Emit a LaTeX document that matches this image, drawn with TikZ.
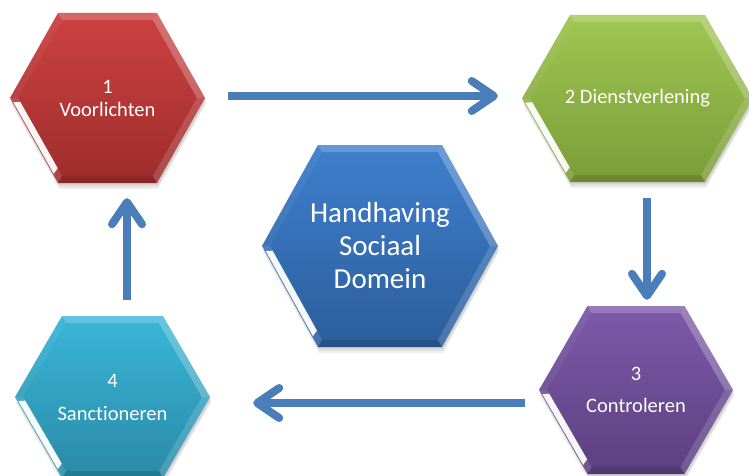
\documentclass[tikz,border=0pt]{standalone}
\usepackage{fontspec}
\setmainfont{Carlito}[Ligatures=NoCommon]
\usetikzlibrary{arrows.meta,calc}
\definecolor{arrowblue}{HTML}{4A7EBB}
\definecolor{redtop}{HTML}{CD4242}
\definecolor{redbot}{HTML}{9E2C2C}
\definecolor{greentop}{HTML}{A0C653}
\definecolor{greenbot}{HTML}{7B9C38}
\definecolor{bluetop}{HTML}{3F7FCD}
\definecolor{bluebot}{HTML}{2C5E9C}
\definecolor{purpletop}{HTML}{7E5AAA}
\definecolor{purplebot}{HTML}{5C4080}
\definecolor{cyantop}{HTML}{3AB6D8}
\definecolor{cyanbot}{HTML}{2A8AA6}
\tikzset{
  hexbox/.style={inner sep=0pt, text=white, align=center},
  smalltext/.style={font=\fontsize{20.5}{23}\selectfont},
  bigtext/.style={font=\fontsize{29}{33}\selectfont},
  flow/.style={draw=arrowblue, line width=8pt,
    -{Straight Barb[length=22pt,width=30pt,round]}},
}
% #1 cx, #2 cy, #3 half width, #4 half height, #5 half top edge, #6 top colour, #7 bottom colour
\newcommand{\hexdraw}[7]{%
\begin{scope}[shift={(#1,#2)}]
  \pgfmathsetmacro\hW{#3}\pgfmathsetmacro\hH{#4}\pgfmathsetmacro\hT{#5}
  \pgfmathsetmacro\hD{7}
  \pgfmathsetmacro\hDx{\hD*veclen(\hH,\hW-\hT)/\hH}
  \pgfmathsetmacro\iW{\hW-\hDx}
  \pgfmathsetmacro\iH{\hH-\hD}
  \pgfmathsetmacro\iT{\hT-\hDx+(\hW-\hT)*\hD/\hH}
  \foreach \s in {2,4,6}{%
    \fill[black,opacity=0.06] (-\hT+1,-\hH+\s) -- (\hT+1,-\hH+\s) -- (\hW+1,\s)
      -- (\hT+1,\hH+\s) -- (-\hT+1,\hH+\s) -- (-\hW+1,\s) -- cycle;}
  \coordinate (P1) at (-\hT,-\hH); \coordinate (P2) at (\hT,-\hH);
  \coordinate (P3) at (\hW,0);     \coordinate (P4) at (\hT,\hH);
  \coordinate (P5) at (-\hT,\hH);  \coordinate (P6) at (-\hW,0);
  \coordinate (Q1) at (-\iT,-\iH); \coordinate (Q2) at (\iT,-\iH);
  \coordinate (Q3) at (\iW,0);     \coordinate (Q4) at (\iT,\iH);
  \coordinate (Q5) at (-\iT,\iH);  \coordinate (Q6) at (-\iW,0);
  \shade[top color=#6, bottom color=#7]
    (P1) -- (P2) -- (P3) -- (P4) -- (P5) -- (P6) -- cycle;
  \fill[white,opacity=0.20] (P1) -- (P2) -- (Q2) -- (Q1) -- cycle;
  \fill[white,opacity=0.24] (P2) -- (P3) -- (Q3) -- (Q2) -- cycle;
  \fill[white,opacity=0.15] (P3) -- (P4) -- (Q4) -- (Q3) -- cycle;
  \fill[black,opacity=0.12] (P4) -- (P5) -- (Q5) -- (Q4) -- cycle;
  \fill[white,opacity=0.12] (P5) -- (P6) -- (Q6) -- (Q5) -- cycle;
  \fill[white,opacity=0.05] (P6) -- (P1) -- (Q1) -- (Q6) -- cycle;
  \coordinate (R6) at ($(P6)!0.12!(Q6)$);
  \coordinate (R5) at ($(P5)!0.12!(Q5)$);
  \fill[white,opacity=0.95] ($(R6)!0.05!(R5)$) -- ($(R6)!0.9!(R5)$)
    -- ($(Q6)!0.9!(Q5)$) -- ($(Q6)!0.05!(Q5)$) -- cycle;
\end{scope}}
\begin{document}
\begin{tikzpicture}[x=1pt,y=-1pt]
  \useasboundingbox (0,0) rectangle (749,476);
  \fill[white] (0,0) rectangle (749,476);
  % hexagon bodies
  \hexdraw{107.5}{98}{97.5}{85}{49.5}{redtop}{redbot}
  \hexdraw{637.5}{98.5}{115.5}{83.5}{67.5}{greentop}{greenbot}
  \hexdraw{380}{246}{118}{101}{62}{bluetop}{bluebot}
  \hexdraw{636}{390}{97}{84}{48.5}{purpletop}{purplebot}
  \hexdraw{112.5}{397}{97.5}{81}{50.5}{cyantop}{cyanbot}
  % named nodes with texts
  \node[hexbox, smalltext, minimum width=195pt, minimum height=170pt] (red) at (107.5,98) {1\\Voorlichten};
  \node[hexbox, smalltext, minimum width=231pt, minimum height=167pt] (green) at (637.5,98.5) {2 Dienstverlening};
  \node[hexbox, bigtext, minimum width=236pt, minimum height=202pt] (blue) at (380,246) {Handhaving\\Sociaal\\Domein};
  \node[hexbox, smalltext, minimum width=194pt, minimum height=168pt] (purple) at (636,390) {3\\[9pt]Controleren};
  \node[hexbox, smalltext, minimum width=195pt, minimum height=162pt] (cyan) at (112.5,397) {4\\[10pt]Sanctioneren};
  % connectors
  \draw[flow] ($(red.east)+(23,-2)$) -- ($(green.west)+(-24,-2.5)$);
  \draw[flow] ($(green.south)+(9.5,16)$) -- ($(purple.north)+(11,-6)$);
  \draw[flow] ($(purple.west)+(-14,13)$) -- ($(cyan.east)+(43,6)$);
  \draw[flow] ($(cyan.north)+(14.5,-16)$) -- ($(red.south)+(19.5,15)$);
\end{tikzpicture}
\end{document}
